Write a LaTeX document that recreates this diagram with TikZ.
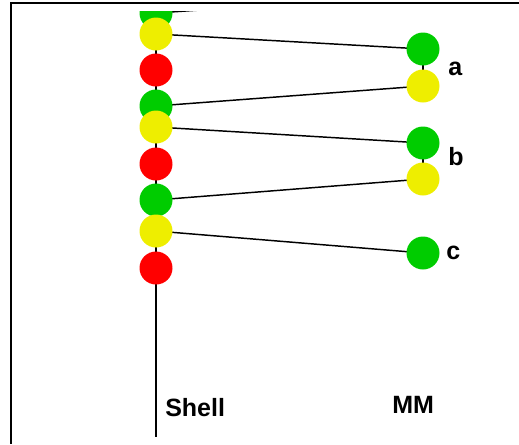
\documentclass[tikz,border=0pt]{standalone}
\usepackage{fontspec}
\setmainfont{Liberation Sans}
\usetikzlibrary{backgrounds}
\definecolor{atomgreen}{RGB}{0,204,0}
\definecolor{atomyellow}{RGB}{238,238,0}
\definecolor{atomred}{RGB}{255,0,0}
\tikzset{
  atom/.style={circle, inner sep=0pt, minimum size=24.75pt},
  ga/.style={atom, fill=atomgreen},
  ya/.style={atom, fill=atomyellow},
  ra/.style={atom, fill=atomred},
  bond/.style={line width=1.1pt, black},
  frameline/.style={line width=1.5pt, black},
  lbl/.style={font=\fontsize{18.75}{22}\selectfont\bfseries, inner sep=0pt, anchor=base west}
}
\begin{document}
\begin{tikzpicture}[x=0.75pt, y=-0.75pt]
\useasboundingbox (0,0) rectangle (519,444);
% frame edges
\draw[frameline] (519,3) -- (11,3) -- (11,444);
\begin{scope}
  \clip (12,11) rectangle (519,444);
  % shell chain
  \node[ga] (g1) at (156,13) {};
  \node[ya] (y1) at (156,34) {};
  \node[ra] (r1) at (156,70) {};
  \node[ga] (g2) at (156,106) {};
  \node[ya] (y2) at (156,127) {};
  \node[ra] (r2) at (156,164) {};
  \node[ga] (g3) at (156,200) {};
  \node[ya] (y3) at (156,231) {};
  \node[ra] (r3) at (156,268) {};
  \coordinate (stop) at (156,0);
  \coordinate (sbot) at (156,437);
  \coordinate (up) at (423,-5);
  % MM region
  \node[ga] (ga) at (423,49) {};
  \node[ya] (ya) at (423,86) {};
  \node[ga] (gb) at (423,143) {};
  \node[ya] (yb) at (423,179) {};
  \node[ga] (gc) at (423,253) {};
  \begin{scope}[on background layer]
    \clip (12,11) rectangle (519,444);
    \draw[bond] (stop) -- (sbot);
    \draw[bond] (ga.center) -- (ya.center);
    \draw[bond] (gb.center) -- (yb.center);
    \draw[bond] (g1.center) -- (up);
    \draw[bond] (y1.center) -- (ga.center);
    \draw[bond] (g2.center) -- (ya.center);
    \draw[bond] (y2.center) -- (gb.center);
    \draw[bond] (g3.center) -- (yb.center);
    \draw[bond] (y3.center) -- (gc.center);
  \end{scope}
  % labels
  \node[lbl] (la) at (448,75) {a};
  \node[lbl] (lb) at (448,165) {b};
  \node[lbl] (lc) at (446,259) {c};
  \node[lbl] (lshell) at (165,416) {Shell};
  \node[lbl] (lmm) at (392,413) {MM};
\end{scope}
\end{tikzpicture}
\end{document}
